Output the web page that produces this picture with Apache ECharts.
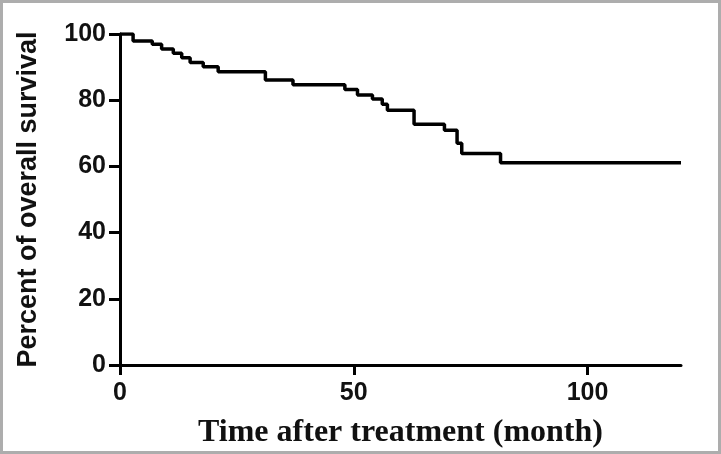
<!DOCTYPE html>
<html>
<head>
<meta charset="utf-8">
<script src="https://cdn.jsdelivr.net/npm/echarts@6/dist/echarts.min.js"></script>
<style>
html,body{margin:0;padding:0;background:#fff;}
#c{width:721px;height:454px;}
</style>
</head>
<body>
<div id="c"></div>
<script>
// Kaplan-Meier step points (time in months, survival %)
const times = [0, 2.8, 6.9, 8.9, 11.4, 13.2, 15, 17.8, 21, 31.1, 37, 48.1, 50.8, 54, 56.1, 57.2, 62.9, 69.4, 72.1, 73.1, 81.4, 120];
const survival = [100, 97.9, 96.9, 95.5, 94.2, 92.8, 91.4, 90.1, 88.6, 86.1, 84.7, 83.2, 81.6, 80.4, 78.8, 77.0, 72.7, 70.9, 67.0, 63.9, 61.1, 61.1];
const xTicks = [0, 50, 100];
const yTicks = [0, 20, 40, 60, 80, 100];

const data = times.map((t, i) => [t, survival[i]]);
const chart = echarts.init(document.getElementById('c'), null, {renderer: 'canvas'});
chart.setOption({
  animation: false,
  backgroundColor: '#fff',
  graphic: [{
    type: 'rect', shape: {x: 1.5, y: 1.5, width: 718, height: 451},
    style: {fill: 'none', stroke: '#adadad', lineWidth: 3}, z: 100
  }],
  grid: {left: 120, right: 40, top: 34, bottom: 89, containLabel: false, outerBoundsMode: 'none'},
  xAxis: {
    type: 'value', min: 0, max: 120, interval: 10,
    name: 'Time after treatment (month)', nameLocation: 'middle', nameGap: 52,
    nameTextStyle: {fontFamily: 'Liberation Serif', fontWeight: 'bold', fontSize: 32, color: '#111'},
    axisLine: {show: true, lineStyle: {color: '#000', width: 3}},
    axisTick: {show: true, length: 10, customValues: xTicks, lineStyle: {color: '#000', width: 3}},
    axisLabel: {fontFamily: 'Liberation Sans', fontWeight: 'bold', fontSize: 25, color: '#111', margin: 16,
      customValues: xTicks},
    splitLine: {show: false}
  },
  yAxis: {
    type: 'value', min: 0, max: 100, interval: 20,
    name: 'Percent of overall survival', nameLocation: 'middle', nameGap: 78, nameRotate: 90,
    nameTextStyle: {fontFamily: 'Liberation Sans', fontWeight: 'bold', fontSize: 27, color: '#111'},
    axisLine: {show: true, lineStyle: {color: '#000', width: 3}},
    axisTick: {show: true, length: 11, customValues: yTicks, lineStyle: {color: '#000', width: 3}},
    axisLabel: {fontFamily: 'Liberation Sans', fontWeight: 'bold', fontSize: 25, color: '#111', margin: 14,
      customValues: yTicks},
    splitLine: {show: false}
  },
  series: [{
    type: 'line', step: 'end', data: data, symbol: 'none',
    lineStyle: {color: '#000', width: 3.5}
  }]
});
</script>
</body>
</html>
